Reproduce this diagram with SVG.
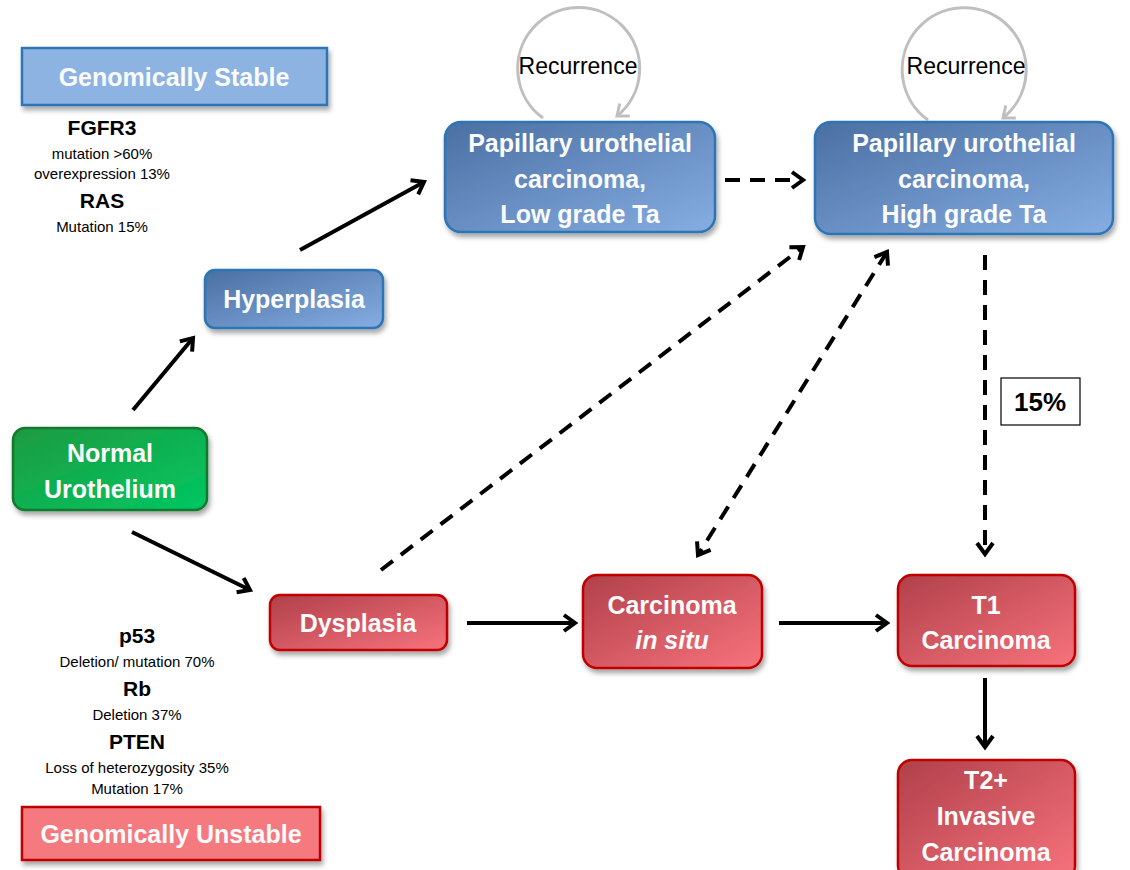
<svg xmlns="http://www.w3.org/2000/svg" width="1130" height="870" viewBox="0 0 1130 870">
<defs>
  <linearGradient id="gBlue" x1="0" y1="0" x2="1" y2="1">
    <stop offset="0" stop-color="#4a6fa3"/>
    <stop offset="1" stop-color="#86aee2"/>
  </linearGradient>
  <linearGradient id="gRed" x1="0" y1="0" x2="1" y2="1">
    <stop offset="0" stop-color="#b0404a"/>
    <stop offset="1" stop-color="#f7737c"/>
  </linearGradient>
  <linearGradient id="gGreen" x1="0" y1="0" x2="1" y2="1">
    <stop offset="0" stop-color="#1e9a40"/>
    <stop offset="1" stop-color="#00c862"/>
  </linearGradient>
  <filter id="sh" x="-10%" y="-10%" width="130%" height="140%">
    <feDropShadow dx="2" dy="4" stdDeviation="2.5" flood-color="#000" flood-opacity="0.35"/>
  </filter>
  <marker id="ah" markerUnits="userSpaceOnUse" markerWidth="24" markerHeight="24" refX="14" refY="10" orient="auto-start-reverse">
    <path d="M3,2 L14,10 L3,18" fill="none" stroke="#000" stroke-width="4" stroke-linejoin="miter"/>
  </marker>
  <marker id="ahg" markerUnits="userSpaceOnUse" markerWidth="24" markerHeight="24" refX="13" refY="10" orient="auto">
    <path d="M3,2 L13,10 L3,18" fill="none" stroke="#bfbfbf" stroke-width="3"/>
  </marker>
  <style>
    .blue{fill:url(#gBlue);stroke:#2e75b6;stroke-width:2.5;filter:url(#sh)}
    .red{fill:url(#gRed);stroke:#c00000;stroke-width:2.5;filter:url(#sh)}
    .green{fill:url(#gGreen);stroke:#16782e;stroke-width:2.5;filter:url(#sh)}
    .nt{font-family:"Liberation Sans",Arial,sans-serif;font-weight:bold;fill:#fbfbfb;text-anchor:middle;font-size:25px}
    .gene{font-family:"Liberation Sans",Arial,sans-serif;font-weight:bold;fill:#000;text-anchor:middle;font-size:21px}
    .sm{font-family:"Liberation Sans",Arial,sans-serif;fill:#000;text-anchor:middle;font-size:15px}
    .rec{font-family:"Liberation Sans",Arial,sans-serif;fill:#000;text-anchor:middle;font-size:23px}
    .solid{stroke:#000;stroke-width:4;fill:none;marker-end:url(#ah)}
    .dash{stroke:#000;stroke-width:4;fill:none;stroke-dasharray:15 10;marker-end:url(#ah)}
    .loop{stroke:#bfbfbf;stroke-width:3;fill:none;marker-end:url(#ahg)}
  </style>
</defs>
<rect width="1130" height="870" fill="#fff"/>

<g id="connectors">
  <line class="solid" x1="133" y1="410" x2="193" y2="338"/>
  <line class="solid" x1="300" y1="250" x2="424" y2="182"/>
  <line class="solid" x1="132" y1="532" x2="250" y2="590"/>
  <line class="solid" x1="467" y1="623" x2="575" y2="623"/>
  <line class="solid" x1="779" y1="623" x2="887" y2="623"/>
  <line class="solid" x1="985" y1="678" x2="985" y2="747"/>
  <line class="dash" x1="725" y1="180" x2="803" y2="180"/>
  <line class="dash" x1="381" y1="570" x2="803" y2="247"/>
  <line class="dash" x1="887" y1="252" x2="698" y2="555" style="marker-start:url(#ah)"/>
  <line class="dash" x1="985" y1="255" x2="985" y2="554"/>
  <path class="loop" d="M543,118 A61,61 0 1 1 617,116"/>
  <path class="loop" d="M928,120 A62,62 0 1 1 1003,118"/>
</g>

<g id="recurrence-low"><text class="rec" x="578" y="74">Recurrence</text></g>
<g id="recurrence-high"><text class="rec" x="966" y="74">Recurrence</text></g>

<g id="genomically-stable">
  <rect x="22" y="48" width="305" height="57" fill="#8db3e2" stroke="#2e75b6" stroke-width="2.5" filter="url(#sh)"/>
  <text class="nt" x="174" y="86">Genomically Stable</text>
</g>
<g id="stable-genes">
  <text class="gene" x="102" y="135">FGFR3</text>
  <text class="sm" x="102" y="159">mutation &gt;60%</text>
  <text class="sm" x="102" y="179">overexpression 13%</text>
  <text class="gene" x="102" y="208">RAS</text>
  <text class="sm" x="102" y="232">Mutation 15%</text>
</g>

<g id="unstable-genes">
  <text class="gene" x="137" y="643">p53</text>
  <text class="sm" x="137" y="667">Deletion/ mutation 70%</text>
  <text class="gene" x="137" y="696">Rb</text>
  <text class="sm" x="137" y="720">Deletion 37%</text>
  <text class="gene" x="137" y="749">PTEN</text>
  <text class="sm" x="137" y="773">Loss of heterozygosity 35%</text>
  <text class="sm" x="137" y="794">Mutation 17%</text>
</g>
<g id="genomically-unstable">
  <rect x="22" y="807" width="298" height="53" fill="#f47a7f" stroke="#c00000" stroke-width="2.5" filter="url(#sh)"/>
  <text class="nt" x="171" y="843">Genomically Unstable</text>
</g>

<g id="normal">
  <rect class="green" x="13" y="428" width="194" height="82" rx="12"/>
  <text class="nt" x="110" y="462">Normal</text>
  <text class="nt" x="110" y="498">Urothelium</text>
</g>
<g id="hyperplasia">
  <rect class="blue" x="205" y="270" width="178" height="58" rx="10"/>
  <text class="nt" x="294" y="308">Hyperplasia</text>
</g>
<g id="papillary-low">
  <rect class="blue" x="445" y="122" width="270" height="110" rx="16"/>
  <text class="nt" x="580" y="152">Papillary urothelial</text>
  <text class="nt" x="580" y="188">carcinoma,</text>
  <text class="nt" x="580" y="223">Low grade Ta</text>
</g>
<g id="papillary-high">
  <rect class="blue" x="815" y="122" width="298" height="112" rx="16"/>
  <text class="nt" x="964" y="152">Papillary urothelial</text>
  <text class="nt" x="964" y="188">carcinoma,</text>
  <text class="nt" x="964" y="223">High grade Ta</text>
</g>
<g id="dysplasia">
  <rect class="red" x="270" y="595" width="177" height="55" rx="10"/>
  <text class="nt" x="358" y="632">Dysplasia</text>
</g>
<g id="cis">
  <rect class="red" x="583" y="575" width="179" height="93" rx="14"/>
  <text class="nt" x="672" y="614">Carcinoma</text>
  <text class="nt" x="672" y="649" font-style="italic">in situ</text>
</g>
<g id="t1">
  <rect class="red" x="898" y="575" width="177" height="91" rx="14"/>
  <text class="nt" x="986" y="614">T1</text>
  <text class="nt" x="986" y="649">Carcinoma</text>
</g>
<g id="t2">
  <rect class="red" x="898" y="760" width="177" height="120" rx="14"/>
  <text class="nt" x="986" y="789">T2+</text>
  <text class="nt" x="986" y="825">Invasive</text>
  <text class="nt" x="986" y="861">Carcinoma</text>
</g>
<g id="pct15">
  <rect x="1001" y="378" width="79" height="47" fill="#fff" stroke="#000" stroke-width="1.2"/>
  <text x="1040" y="411" font-family="'Liberation Sans',Arial,sans-serif" font-weight="bold" font-size="26" text-anchor="middle">15%</text>
</g>
</svg>
